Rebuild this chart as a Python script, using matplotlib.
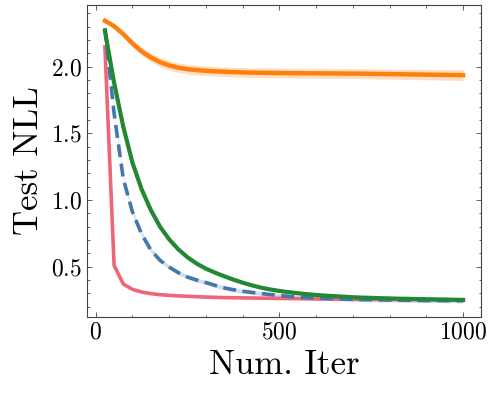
import matplotlib
matplotlib.use("Agg")
import matplotlib.pyplot as plt
import numpy as np
from matplotlib.ticker import MultipleLocator

plt.rcParams['font.family'] = 'serif'
plt.rcParams['font.serif'] = ['cmr10']
plt.rcParams['mathtext.fontset'] = 'cm'
plt.rcParams['axes.formatter.use_mathtext'] = True

iters = [25 * k for k in range(1, 41)]

orange = [2.345, 2.305, 2.245, 2.175, 2.115, 2.07, 2.035, 2.01, 1.993, 1.982,
          1.975, 1.97, 1.966, 1.963, 1.96, 1.958, 1.956, 1.955, 1.954, 1.953,
          1.952, 1.952, 1.951, 1.951, 1.95, 1.95, 1.949, 1.949, 1.948, 1.947,
          1.946, 1.945, 1.944, 1.943, 1.942, 1.941, 1.94, 1.939, 1.938, 1.937]
orange_std = [0.012, 0.015, 0.02, 0.025, 0.03, 0.033, 0.035, 0.036, 0.036, 0.036,
              0.036, 0.036, 0.036, 0.036, 0.036, 0.036, 0.036, 0.036, 0.036, 0.036,
              0.036, 0.036, 0.037, 0.037, 0.037, 0.037, 0.037, 0.037, 0.038, 0.038,
              0.038, 0.038, 0.038, 0.039, 0.039, 0.039, 0.039, 0.04, 0.04, 0.04]

green = [2.27, 1.88, 1.55, 1.28, 1.08, 0.925, 0.80, 0.705, 0.63, 0.57,
         0.523, 0.485, 0.455, 0.428, 0.403, 0.38, 0.36, 0.343, 0.329, 0.318,
         0.309, 0.301, 0.294, 0.288, 0.283, 0.279, 0.275, 0.271, 0.268, 0.266,
         0.264, 0.262, 0.26, 0.259, 0.257, 0.256, 0.255, 0.254, 0.252, 0.251]
green_std = [0.01] * 40

blue = [2.29, 1.65, 1.16, 0.91, 0.745, 0.625, 0.548, 0.497, 0.455, 0.422,
        0.40, 0.381, 0.36, 0.341, 0.327, 0.316, 0.307, 0.299, 0.291, 0.284,
        0.277, 0.272, 0.268, 0.265, 0.262, 0.259, 0.257, 0.255, 0.253, 0.252,
        0.251, 0.25, 0.249, 0.248, 0.247, 0.246, 0.246, 0.245, 0.245, 0.244]
blue_std = [0.015] * 40

red = [2.15, 0.51, 0.37, 0.33, 0.31, 0.298, 0.29, 0.285, 0.281, 0.278,
       0.275, 0.272, 0.27, 0.268, 0.267, 0.266, 0.265, 0.264, 0.263, 0.262,
       0.261, 0.26, 0.259, 0.258, 0.258, 0.257, 0.257, 0.256, 0.256, 0.255,
       0.255, 0.254, 0.254, 0.253, 0.253, 0.252, 0.252, 0.251, 0.251, 0.25]

x = np.array(iters)

fig = plt.figure(figsize=(4.99, 3.93), dpi=100)
ax = fig.add_axes([87/499, 1 - 317/393, (481-87)/499, (317-5)/393])

def band(y, s, color, alpha):
    y = np.array(y); s = np.array(s)
    ax.fill_between(x, y - s, y + s, color=color, alpha=alpha, lw=0)

band(red, [0.005]*40, '#EE6677', 0.25)
ax.plot(x, red, color='#EE6677', lw=2.6)
band(blue, blue_std, '#4477AA', 0.25)
ax.plot(x, blue, color='#4477AA', lw=2.6, ls=(0, (3.6, 1.8)))
band(green, green_std, '#228833', 0.3)
ax.plot(x, green, color='#228833', lw=3.0)
band(orange, orange_std, '#FF7F0E', 0.25)
ax.plot(x, orange, color='#FF7F0E', lw=3.2)

ax.set_xlabel('Num. Iter', fontsize=25)
ax.set_ylabel('Test NLL', fontsize=25)
ax.xaxis.set_major_locator(MultipleLocator(500))
ax.xaxis.set_minor_locator(MultipleLocator(100))
ax.yaxis.set_major_locator(MultipleLocator(0.5))
ax.yaxis.set_minor_locator(MultipleLocator(0.1))
ax.tick_params(which='both', direction='in', top=True, right=True, labelsize=17)
ax.tick_params(which='major', length=3.5, width=0.6)
ax.tick_params(which='minor', length=1.8, width=0.6)
for sp in ax.spines.values():
    sp.set_linewidth(0.8)
    sp.set_color('#444444')
ax.tick_params(which='both', color='#444444')

fig.savefig('out.png', dpi=100)
